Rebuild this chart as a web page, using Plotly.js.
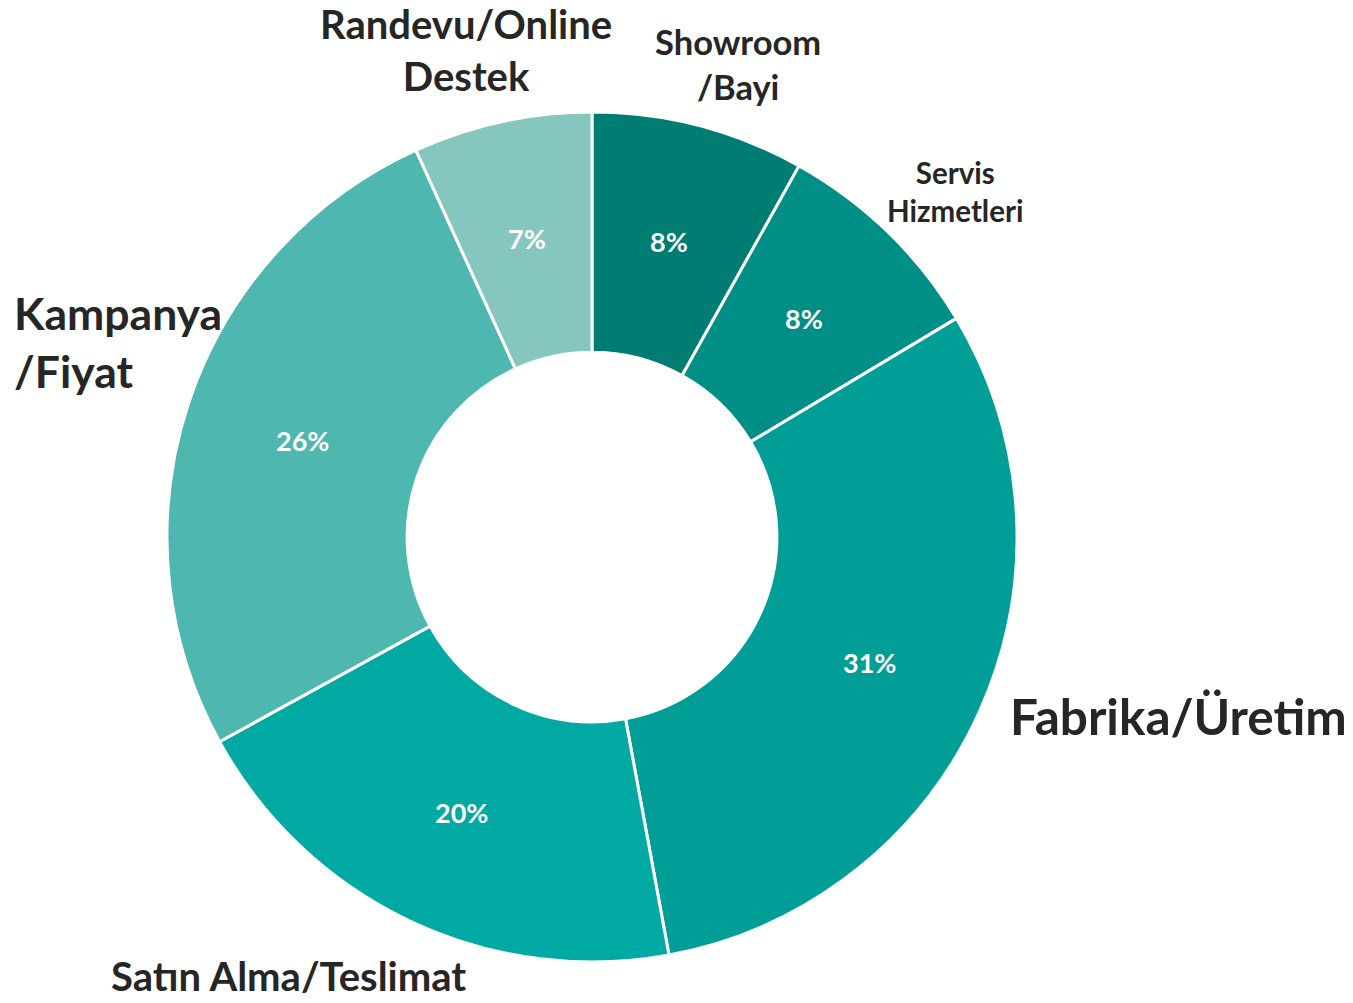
<!DOCTYPE html>
<html>
<head>
<meta charset="utf-8">
<script src="https://cdn.plot.ly/plotly-3.0.1.min.js"></script>
<style>html,body{margin:0;padding:0;background:#fff;}#chart{width:1353px;height:1003px;}</style>
</head>
<body>
<div id="chart"></div>
<script>
const categories = ["Showroom /Bayi", "Servis Hizmetleri", "Fabrika/Üretim", "Satın Alma/Teslimat", "Kampanya /Fiyat", "Randevu/Online Destek"];
const shares = [8.1, 8.3, 30.7, 19.9, 26.2, 6.8];
const sliceColors = ["#007D73", "#008F86", "#009E96", "#00A9A2", "#4DB7B0", "#85C6BF"];

const W = 1353, H = 1003;
const px = x => x / W;
const py = y => 1 - y / H;
const cx = 592, cy = 537, R = 425, HOLE = 0.435;
const FONT = "Lato, 'Open Sans', sans-serif";

const labelStyle = [
  {text: "Randevu/Online<br>Destek", x: 466, y: 50, size: 40, xanchor: "center", align: "center"},
  {text: "Showroom<br>/Bayi", x: 738, y: 64, size: 34.5, xanchor: "center", align: "center"},
  {text: "Servis<br>Hizmetleri", x: 955, y: 191, size: 29.5, xanchor: "center", align: "center"},
  {text: "Kampanya<br>/Fiyat", x: 12, y: 341, size: 44.5, xanchor: "left", align: "left"},
  {text: "Fabrika/Üretim", x: 1008, y: 716, size: 49.5, xanchor: "left", align: "left"},
  {text: "Satın Alma/Teslimat", x: 288, y: 976, size: 40, xanchor: "center", align: "center"}
];

const trace = {
  type: "pie",
  labels: categories,
  values: shares,
  sort: false,
  direction: "clockwise",
  rotation: 0,
  hole: HOLE,
  marker: {colors: sliceColors, line: {color: "#ffffff", width: 3}},
  textinfo: "none",
  showlegend: false,
  hoverinfo: "label+percent",
  domain: {x: [px(cx - R), px(cx + R)], y: [py(cy + R), py(cy - R)]}
};

// percent labels placed at the middle of the ring, derived from the data
const total = shares.reduce((a, b) => a + b, 0);
const midR = R * (1 + HOLE) / 2;
let cum = 0;
const pctAnnotations = shares.map(v => {
  const mid = (cum + v / 2) / total * 2 * Math.PI;
  cum += v;
  return {
    text: "<b>" + Math.round(v / total * 100) + "%</b>",
    x: px(cx + midR * Math.sin(mid)), y: py(cy - midR * Math.cos(mid)),
    xref: "paper", yref: "paper", xanchor: "center", yanchor: "middle",
    showarrow: false,
    font: {family: FONT, size: 27, color: "#ffffff"}
  };
});

const layout = {
  width: W, height: H,
  margin: {l: 0, r: 0, t: 0, b: 0},
  paper_bgcolor: "#ffffff",
  showlegend: false,
  font: {family: FONT},
  annotations: labelStyle.map(l => ({
    text: "<b>" + l.text + "</b>",
    x: px(l.x), y: py(l.y), xref: "paper", yref: "paper",
    xanchor: l.xanchor, yanchor: "middle", align: l.align,
    showarrow: false,
    font: {family: FONT, size: l.size, color: "#262626"}
  })).concat(pctAnnotations)
};

Plotly.newPlot("chart", [trace], layout, {displayModeBar: false, staticPlot: true});
</script>
</body>
</html>
